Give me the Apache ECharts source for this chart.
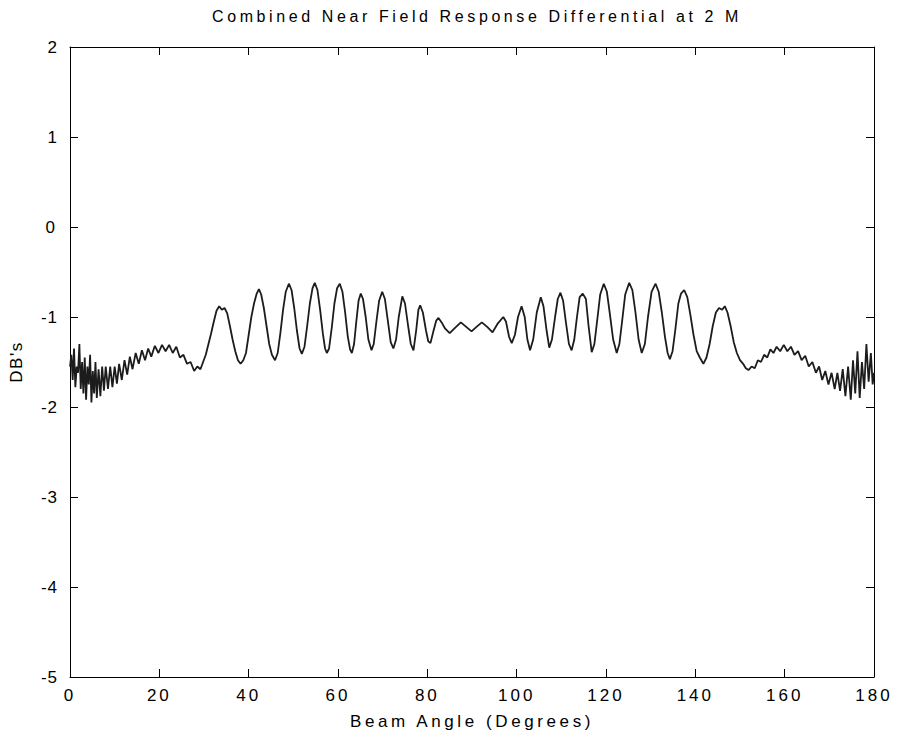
<!DOCTYPE html>
<html>
<head>
<meta charset="utf-8">
<script src="https://cdn.jsdelivr.net/npm/echarts@6/dist/echarts.min.js"></script>
<style>
html,body{margin:0;padding:0;background:#fff;}
#chart{width:901px;height:747px;}
#chart svg text{letter-spacing:2.5px;}
</style>
</head>
<body>
<div id="chart"></div>
<script>
// Beam angle (degrees) and response differential (dB)
var angles = [
0,0.3,0.6,0.9,1.2,1.5,1.8,2.1,2.4,2.7,3.0,3.3,3.6,3.9,4.2,4.5,4.8,5.1,5.4,5.7,6.0,6.4,6.8,7.2,7.6,8.0,8.5,9.0,9.5,10.0,
10.5,11.0,11.6,12.2,12.8,13.4,14.0,14.7,15.4,16.1,16.8,17.5,18.2,19.0,19.8,20.6,21.4,22.2,23.0,23.8,24.6,25.4,26.2,27.0,27.8,
28.5,29.2,29.8,30.4,31.0,31.6,32.2,32.8,33.4,34.0,34.6,35.2,35.8,36.4,37.0,37.6,38.2,38.8,39.4,40.0,40.6,41.2,41.8,42.3,42.8,
43.4,44.0,44.6,45.2,45.9,46.5,47.1,47.7,48.3,49.0,49.6,50.2,50.8,51.4,51.9,52.5,53.1,53.7,54.3,54.8,55.4,56.0,56.6,57.1,57.5,
58.0,58.6,59.2,59.8,60.4,61.0,61.6,62.2,62.7,63.1,63.6,64.1,64.6,65.1,65.6,66.2,66.8,67.5,68.0,68.6,69.2,69.9,70.5,71.1,71.8,
72.4,73.0,73.6,74.4,75.0,75.7,76.3,76.9,77.5,78.0,78.4,79.0,79.7,80.2,80.7,81.4,82.0,82.5,83.2,84.0,85.0,86.2,87.5,88.7,89.9,
91.0,92.2,93.4,94.6,95.8,97.0,97.6,98.3,98.9,99.6,100.3,101.1,101.8,102.4,103.0,103.7,104.5,105.4,106.0,106.7,107.3,107.9,
108.6,109.2,109.8,110.4,111.0,111.7,112.3,112.9,113.5,114.1,114.8,115.5,116.1,116.8,117.4,118.0,118.7,119.5,120.2,120.9,
121.6,122.4,123.0,123.6,124.3,125.2,125.9,126.6,127.3,128.0,128.7,129.4,130.2,131.1,131.8,132.5,133.2,133.8,134.3,134.9,
135.5,136.2,136.8,137.5,138.2,138.9,139.6,140.3,141.0,141.8,142.5,143.2,143.9,144.6,145.3,146.0,146.6,147.2,147.9,148.6,
149.3,150.0,150.7,151.3,151.9,152.6,153.3,154.0,154.7,155.4,156.1,156.8,157.5,158.2,159.0,159.8,160.6,161.4,162.2,163.0,
163.8,164.6,165.4,166.2,167.0,167.7,168.4,169.1,169.8,170.5,171.2,171.8,172.4,173.0,173.6,174.2,174.8,175.3,175.8,176.3,
176.8,177.3,177.8,178.3,178.8,179.3,179.7,180.0
];
var dbValues = [
-1.55,-1.42,-1.70,-1.35,-1.78,-1.55,-1.62,-1.30,-1.80,-1.50,-1.85,-1.45,-1.92,-1.55,-1.75,-1.42,-1.95,-1.60,-1.85,-1.50,-1.90,-1.58,-1.88,-1.55,-1.82,-1.55,-1.80,-1.55,-1.78,-1.55,
-1.74,-1.52,-1.70,-1.48,-1.64,-1.44,-1.58,-1.40,-1.52,-1.37,-1.48,-1.35,-1.44,-1.32,-1.40,-1.31,-1.38,-1.31,-1.40,-1.33,-1.45,-1.42,-1.52,-1.50,-1.60,
-1.55,-1.58,-1.50,-1.42,-1.30,-1.18,-1.05,-0.93,-0.88,-0.92,-0.90,-0.96,-1.10,-1.25,-1.38,-1.48,-1.52,-1.48,-1.40,-1.20,-1.00,-0.85,-0.74,-0.69,-0.75,
-0.90,-1.10,-1.30,-1.42,-1.48,-1.40,-1.18,-0.92,-0.72,-0.63,-0.70,-0.90,-1.15,-1.35,-1.41,-1.33,-1.10,-0.85,-0.68,-0.62,-0.70,-0.92,-1.18,-1.35,-1.40,
-1.35,-1.12,-0.85,-0.68,-0.63,-0.72,-0.95,-1.22,-1.36,-1.40,-1.30,-1.05,-0.82,-0.74,-0.80,-1.00,-1.25,-1.37,-1.30,-1.05,-0.82,-0.72,-0.80,-1.02,-1.28,
-1.35,-1.25,-1.00,-0.77,-0.85,-1.10,-1.30,-1.37,-1.15,-0.92,-0.87,-0.95,-1.15,-1.27,-1.29,-1.15,-1.04,-1.01,-1.06,-1.13,-1.18,-1.12,-1.06,-1.11,-1.16,
-1.11,-1.06,-1.11,-1.17,-1.07,-1.00,-1.05,-1.22,-1.29,-1.20,-1.00,-0.88,-1.00,-1.25,-1.37,-1.25,-0.95,-0.78,-0.88,-1.15,-1.34,-1.25,
-1.00,-0.80,-0.73,-0.82,-1.05,-1.30,-1.37,-1.25,-1.00,-0.78,-0.74,-0.80,-1.10,-1.39,-1.30,-1.05,-0.75,-0.63,-0.72,-0.98,
-1.25,-1.40,-1.30,-1.05,-0.75,-0.62,-0.70,-0.95,-1.25,-1.40,-1.30,-1.00,-0.72,-0.63,-0.72,-0.95,-1.22,-1.40,-1.47,-1.38,
-1.15,-0.85,-0.74,-0.70,-0.78,-0.98,-1.20,-1.38,-1.45,-1.52,-1.45,-1.30,-1.10,-0.95,-0.90,-0.92,-0.88,-0.95,-1.10,-1.28,
-1.40,-1.48,-1.52,-1.57,-1.59,-1.55,-1.57,-1.48,-1.50,-1.42,-1.45,-1.36,-1.40,-1.33,-1.38,-1.31,-1.38,-1.33,-1.42,-1.38,
-1.48,-1.43,-1.55,-1.50,-1.62,-1.55,-1.70,-1.60,-1.75,-1.62,-1.80,-1.62,-1.82,-1.58,-1.88,-1.55,-1.92,-1.48,-1.85,-1.38,
-1.90,-1.50,-1.80,-1.30,-1.72,-1.40,-1.75,-1.62
];
var xTicks = [0, 20, 40, 60, 80, 100, 120, 140, 160, 180];
var yTicks = [-5, -4, -3, -2, -1, 0, 1, 2];
var titleText = 'Combined Near Field Response Differential at 2 M';
var xName = 'Beam Angle (Degrees)';
var yName = "DB's";

var seriesData = angles.map(function (a, i) { return [a, dbValues[i]]; });

var FONT = '"Liberation Sans", Arial, sans-serif';
var chart = echarts.init(document.getElementById('chart'), null, { renderer: 'svg' });

function axisBase(extra) {
  var base = {
    type: 'value',
    axisLine: { show: true, onZero: false, lineStyle: { color: '#000', width: 1 } },
    axisTick: { show: true, inside: true, length: 8, lineStyle: { color: '#000', width: 1 } },
    splitLine: { show: false },
    axisLabel: { show: false }
  };
  for (var k in extra) base[k] = extra[k];
  return base;
}

chart.setOption({
  animation: false,
  backgroundColor: '#fff',
  title: {
    text: titleText,
    left: 472,
    textAlign: 'center',
    top: 3,
    textStyle: { fontFamily: FONT, fontSize: 16, fontWeight: 'normal', color: '#000' }
  },
  grid: { left: 70, right: 27, top: 47, bottom: 70, containLabel: false, outerBoundsMode: 'none' },
  xAxis: [
    axisBase({
      position: 'bottom', min: xTicks[0], max: xTicks[xTicks.length - 1], interval: 20,
      axisLabel: { show: true, margin: 10, fontFamily: FONT, fontSize: 17, color: '#000' },
      name: xName, nameLocation: 'middle', nameGap: 36,
      nameTextStyle: { fontFamily: FONT, fontSize: 17, color: '#000' }
    }),
    axisBase({ position: 'top', min: xTicks[0], max: xTicks[xTicks.length - 1], interval: 20 })
  ],
  yAxis: [
    axisBase({
      position: 'left', min: yTicks[0], max: yTicks[yTicks.length - 1], interval: 1,
      axisLabel: { show: true, margin: 12, fontFamily: FONT, fontSize: 17, color: '#000' },
      name: yName, nameLocation: 'middle', nameGap: 45, nameRotate: 90,
      nameTextStyle: { fontFamily: FONT, fontSize: 17, color: '#000' }
    }),
    axisBase({ position: 'right', min: yTicks[0], max: yTicks[yTicks.length - 1], interval: 1 })
  ],
  series: [{
    type: 'line',
    data: seriesData,
    showSymbol: false,
    smooth: false,
    lineStyle: { color: '#1c1c1c', width: 1.8 },
    xAxisIndex: 0,
    yAxisIndex: 0
  }]
});

// per-text letter spacing to imitate the spaced-out lettering of the original
var spacing = {};
spacing[titleText] = '3.6px';
spacing[xName] = '3.6px';
spacing[yName] = '1.5px';
yTicks.forEach(function (t) { spacing[String(t)] = '1px'; });
xTicks.forEach(function (t) { spacing[String(t)] = '3px'; });
Array.prototype.forEach.call(document.querySelectorAll('#chart svg text'), function (el) {
  var s = spacing[el.textContent];
  if (s) el.style.letterSpacing = s;
});
</script>
</body>
</html>
